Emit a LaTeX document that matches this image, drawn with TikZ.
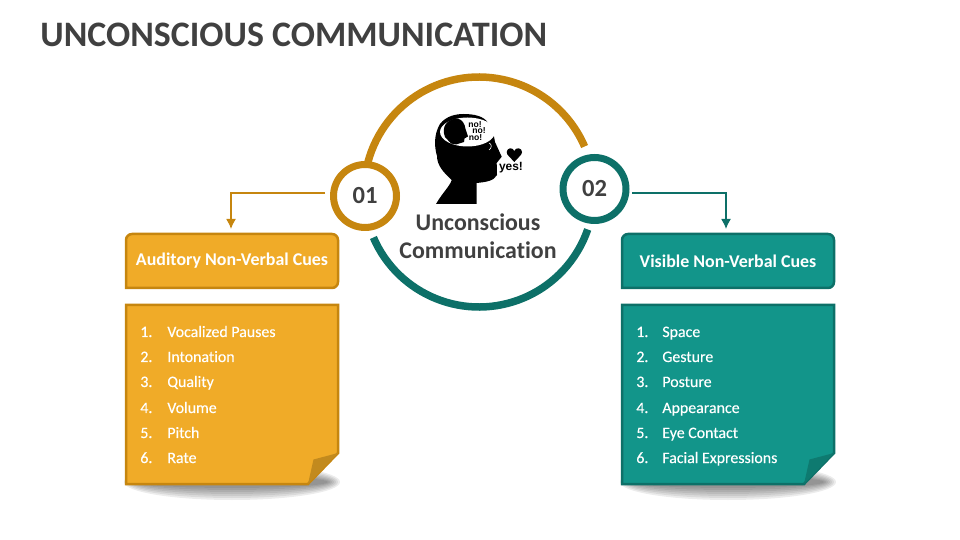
\documentclass[tikz,border=0pt]{standalone}
\usepackage{fontspec}
\setmainfont[Ligatures={NoCommon}]{Carlito}
\newfontfamily\headfont{Liberation Sans}
\newfontfamily\listfont[FakeBold=.25,Ligatures={NoCommon}]{Carlito}
\usetikzlibrary{positioning, calc, arrows.meta}

\definecolor{goldfill}{HTML}{F0AB28}
\definecolor{goldline}{HTML}{C6860F}
\definecolor{goldfold}{HTML}{C28A1E}
\definecolor{tealfill}{HTML}{12958A}
\definecolor{tealline}{HTML}{0D7068}
\definecolor{tealfold}{HTML}{0E7A70}
\definecolor{darktext}{HTML}{404040}

\tikzset{
  ring/.style={circle, fill=white, line width=.14cm, minimum size=1.26cm, inner sep=0pt,
    text=darktext, font=\fontsize{14}{16}\selectfont\bfseries},
  headbox/.style={rectangle, minimum width=4.26cm, minimum height=1.08cm, inner sep=0pt,
    text=white, font=\fontsize{10.2}{12}\selectfont\bfseries},
  listnum/.style={anchor=base west, inner sep=0pt, text=white, font=\listfont\fontsize{9.05}{10}\selectfont},
  nono/.style={inner sep=0pt, font=\headfont\fontsize{4.9}{5}\selectfont\bfseries},
}

\begin{document}
\begin{tikzpicture}[x=.02cm,y=-.02cm,>={Latex[length=.2cm,width=.2cm]}]
  \useasboundingbox (0,0) rectangle (960,540);

  \node[anchor=west,inner sep=0pt,text=darktext,font=\fontsize{20.4}{24}\selectfont\bfseries] (title) at (40,35) {UNCONSCIOUS COMMUNICATION};

  % shadows under the two notes
  \foreach \ox in {232,728} {
    \foreach \ry in {6,8,...,18} {
      \fill[black,opacity=.075] (\ox,482) ellipse[x radius=1.8cm+\ry*.02cm,y radius=\ry*.02cm];
    }
  }

  % left note
  \draw[fill=goldfill,draw=goldline,line width=.05cm] (126,484) -- (126,305) -- (338,305) -- (338,453) -- (308,484) -- cycle;
  \fill[goldfold] (308,484) -- (313.5,459.5) -- (338,453) -- cycle;
  \draw[fill=goldfill,draw=goldline,line width=.05cm,rounded corners=.12cm] (126,288) -- (126,234) -- (338,234) -- (338,288) [sharp corners] -- cycle;
  \node[headbox] (audhead) at (232,261) {Auditory Non-Verbal Cues};

  % right note
  \draw[fill=tealfill,draw=tealline,line width=.05cm] (622,484) -- (622,305) -- (834,305) -- (834,453) -- (804,484) -- cycle;
  \fill[tealfold] (804,484) -- (809.5,459.5) -- (834,453) -- cycle;
  \draw[fill=tealfill,draw=tealline,line width=.05cm,rounded corners=.12cm] (622,288) -- (622,234) -- (834,234) -- (834,288) [sharp corners] -- cycle;
  \node[headbox] (vishead) at (728,261) {Visible Non-Verbal Cues};

  \foreach \i/\yy/\aud/\vis in {1/337/Vocalized Pauses/Space, 2/362/Intonation/Gesture, 3/387/Quality/Posture,
      4/413/Volume/Appearance, 5/438/Pitch/Eye Contact, 6/463/Rate/Facial Expressions} {
    \node[listnum] (audnum\i) at (140,\yy) {\i.};
    \node[listnum] (auditem\i) at (167,\yy) {\aud};
    \node[listnum] (visnum\i) at (636,\yy) {\i.};
    \node[listnum] (visitem\i) at (662,\yy) {\vis};
  }

  % big circle in two halves
  \coordinate (ctr) at (479,192);
  \draw[goldline,line width=.15cm] ([shift={(-168:115)}]ctr) arc[start angle=168,end angle=23.3,radius=2.3cm];
  \draw[tealline,line width=.15cm] ([shift={(-203.3:115)}]ctr) arc[start angle=203.3,end angle=341,radius=2.3cm];

  \node[ring,draw=goldline] (one) at (365,196) {01};
  \node[ring,draw=tealline] (two) at (594.5,189) {02};

  \coordinate (oneout) at (325,193);
  \coordinate (twoout) at (632,193);
  \coordinate (audin) at (231,229);
  \coordinate (visin) at (726,229);
  \draw[->,goldline,line width=.03cm] (oneout) -| (audin);
  \draw[->,tealline,line width=.03cm] (twoout) -| (visin);

  \node[align=center,inner sep=0pt,text=darktext,font=\fontsize{13.6}{15.9}\selectfont\bfseries] (mid) at (478,236.5) {Unconscious\\Communication};

  % head
  \fill[black] (436,204) .. controls (443,192) and (450,186) .. (451.7,180)
     .. controls (443,172) and (437,165) .. (437,156)
     .. controls (434,146) and (434,134) .. (440,124)
     .. controls (446,116) and (456,114) .. (463.3,114)
     .. controls (474,114) and (484,116) .. (488,123)
     .. controls (493,130) and (494,136) .. (495,142)
     -- (501.7,156.7) -- (496.7,163) -- (497,175)
     .. controls (494,181) and (486,182) .. (476.7,183)
     -- (476.7,204) -- cycle;
  \fill[white] (467.5,132) ellipse[x radius=.55cm,y radius=.29cm];
  \fill[black] (445,137) .. controls (441,127) and (447,119) .. (457,118.5)
     .. controls (462,119) and (465,124) .. (465.5,129)
     -- (468,136.5) -- (464.5,138.5) -- (464,142) -- (456,144.5) -- (451,143.5) -- cycle;
  \draw[white,line width=.012cm] (489,143) .. controls (492,144) and (492,148) .. (489,150);
  \node[nono] (nofirst) at (475,124.5) {no!};
  \node[nono] (nosecond) at (479,130.5) {no!};
  \node[nono] (nothird) at (475.5,138) {no!};

  % heart
  \fill[black] (514.3,162) .. controls (510,157) and (506.5,155) .. (506.7,152)
     .. controls (507,147.5) and (513,147) .. (514.3,151)
     .. controls (515.5,147) and (522,147.5) .. (522,152)
     .. controls (522,155) and (518.5,157) .. (514.3,162) -- cycle;
  \node[inner sep=0pt,font=\headfont\fontsize{6.8}{8}\selectfont\bfseries] (yes) at (511,168) {yes!};
\end{tikzpicture}
\end{document}
